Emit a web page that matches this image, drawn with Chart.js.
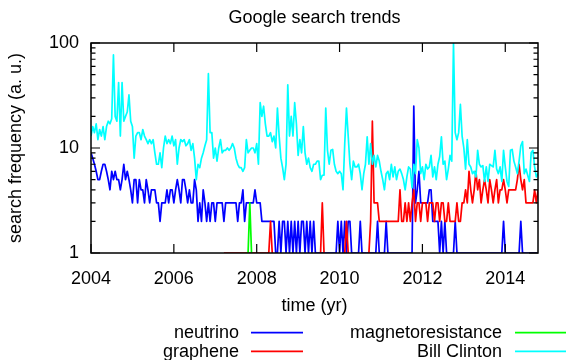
<!DOCTYPE html>
<html><head><meta charset="utf-8">
<script src="https://cdn.jsdelivr.net/npm/chart.js@4.4.0/dist/chart.umd.min.js"></script>
<style>html,body{margin:0;padding:0;background:#fff;}#wrap{width:566px;height:360px;position:relative;}</style>
</head><body><div id="wrap"><canvas id="c" width="566" height="360"></canvas></div>
<script>
// time sampling (semi-monthly) starting Jan 2004; 0 = no data on a log axis (gap)
const START_YEAR = 2004;
const STEP_YEARS = 1 / 24;

const neutrino = [
 9,8,7,6,5,5,6,7,7,6,
 5,4,6,5,6,5,5,4,5,7,
 5,6,5,4,3,5,5,3,5,4,
 4,3,5,4,3,4,4,4,3,3,
 2,3,3,3,4,3,4,4,3,4,
 5,4,3,5,5,4,3,4,3,3,
 5,4,2,3,2,4,3,2,3,2,
 3,3,2,3,3,3,3,2,3,3,
 3,3,3,3,3,2,3,3,4,2,
 3,3,3,3,3,4,3,3,3,2,
 2,2,2,2,2,2,2,1,1,2,
 1,2,2,1,2,1,2,1,2,1,
 2,1,2,2,1,2,1,2,1,2,
 1,1,1,1,1,1,1,1,1,1,
 1,1,1,2,1,2,1,2,1,2,
 2,1,1,1,1,1,2,1,1,1,
 1,1,1,1,1,1,2,1,1,1,
 1,2,1,1,1,1,1,1,1,1,
 1,1,1,1,1,1,1,25,3,4,
 6,3,3,3,3,3,4,4,2,2,
 2,2,1,2,1,2,1,1,1,1,
 1,2,1,1,1,1,1,1,1,1,
 1,1,1,1,1,1,1,1,1,1,
 1,1,1,1,1,1,1,1,1,2,
 1,1,1,1,1,1,1,1,1,2,
 1,1,1,1,1,1,1,1,1,1
];

const graphene = [
 0,0,0,0,0,0,0,0,0,0,
 0,0,0,0,0,0,0,0,0,0,
 0,0,0,0,0,0,0,0,0,0,
 0,0,0,0,0,0,0,0,0,0,
 0,0,0,0,0,0,0,0,0,0,
 0,0,0,0,0,0,0,0,0,0,
 0,0,0,0,0,0,0,0,0,0,
 0,0,0,0,0,0,0,1,1,1,
 1,1,1,1,1,1,1,1,1,1,
 1,1,1,1,1,1,1,1,1,1,
 1,1,1,1,2,1,0,0,0,0,
 0,0,0,0,0,0,0,0,0,0,
 0,0,0,0,0,0,0,0,0,0,
 0,0,0,1,3,1,0,0,0,0,
 0,0,0,0,0,0,0,1,2,1,
 0,0,0,0,0,0,0,0,0,0,
 0,1,2,18,3,3,3,2,2,2,
 2,2,2,2,2,2,2,2,2,4,
 2,2,3,2,3,2,3,4,2,3,
 3,2,3,3,3,2,3,3,3,2,
 3,3,2,3,3,2,2,3,2,2,
 2,2,3,2,2,3,3,4,3,6,
 4,3,4,6,4,5,3,4,5,4,
 3,5,4,3,4,5,3,4,4,5,
 4,3,4,4,4,4,4,5,7,5,
 4,5,3,3,3,3,3,4,3,4
];

const magnetoresistance = [
 0,0,0,0,0,0,0,0,0,0,
 0,0,0,0,0,0,0,0,0,0,
 0,0,0,0,0,0,0,0,0,0,
 0,0,0,0,0,0,0,0,0,0,
 0,0,0,0,0,0,0,0,0,0,
 0,0,0,0,0,0,0,0,0,0,
 0,0,0,0,0,0,0,0,0,0,
 0,0,0,0,0,0,0,0,0,0,
 0,0,0,0,0,0,0,0,0,0,
 0,1,3,1,0,0,0,0,0,0,
 0,0,0,0,0,0,0,0,0,0,
 0,0,0,0,0,0,0,0,0,0,
 0,0,0,0,0,0,0,0,0,0,
 0,0,0,0,0,0,0,0,0,0,
 0,0,0,0,0,0,0,0,0,0,
 0,0,0,0,0,0,0,0,0,0,
 0,0,0,0,0,0,0,0,0,0,
 0,0,0,0,0,0,0,0,0,0,
 0,0,0,0,0,0,0,0,0,0,
 0,0,0,0,0,0,0,0,0,0,
 0,0,0,0,0,0,0,0,0,0,
 0,0,0,0,0,0,0,0,0,0,
 0,0,0,0,0,0,0,0,0,0,
 0,0,0,0,0,0,0,0,0,0,
 0,0,0,0,0,0,0,0,0,0,
 0,0,0,0,0,0,0,0,0,0
];

const billClinton = [
 13,16,14,17,12,15,13,16,12,16,
 18,17,19,77,20,18,42,13,42,18,
 20,22,32,18,16,8,13,14,14,12,
 15,13,12,11,12,11,12,9,7,7,
 9,6.5,10,13,11,12,11,13,10.5,12,
 7,10,12,11.5,12,10.5,11,12,9.5,11,
 8,5,7,6.5,8,9,10.5,12,51,14,
 14,8,10,7.5,10,12,9,9.5,9.5,10,
 9.5,10,11,10,8,7,6.5,6.5,6,6.5,
 12,9,9.5,10,10,9,11,7,27,20,
 25,17,13,13,14,11.5,13,10,24,13,
 8,6.5,5,7,40,13,20,13,27,17,
 8.5,12,9,16,9,7,8,6.5,6,7,
 7,7.5,7.5,5,5.5,5.5,24,9.5,7,9.5,
 9.7,7,6,5.7,6,5.7,4,11,24,13,
 7,5,7.5,6.6,6.6,7,5.7,4,5.7,7,
 12.8,7,11,7,8.5,6.6,8.5,7.5,6,5,
 4,5.7,6,5,7,5.3,6.6,5,6,6.3,
 5.7,5,4,5.3,6.6,6.3,4.2,7,5.7,12,
 10,5.7,6.6,5,7,6.3,6.6,8.5,5.3,6.6,
 5,7,8.3,12.8,7,7.5,5,6.3,8.5,7.5,
 100,14,12,14,26,13,10,6.3,12,7,
 6.6,5.7,6,5.3,9.5,7,6.6,6.8,4.8,6.6,
 4.8,7,6.8,6.6,9.5,6.3,5.7,6.6,4.8,9.5,
 6.6,4.8,4.3,9.5,9.7,7.5,6.6,5.7,7.5,10.5,
 11.5,5.7,6.3,5.5,4.8,9,9.5,6.6,5.3,5.7
];

const seriesNames = ['neutrino', 'graphene', 'magnetoresistance', 'Bill Clinton'];
const seriesValues = [neutrino, graphene, magnetoresistance, billClinton];
const seriesColors = ['#0000ff', '#ff0000', '#00ff00', '#00ffff'];
const xTickYears = [2004, 2006, 2008, 2010, 2012, 2014];
const yMajorTicks = [1, 10, 100];
const yMinorTicks = [2,3,4,5,6,7,8,9,20,30,40,50,60,70,80,90];
const titleText = 'Google search trends';
const xTitleText = 'time (yr)';
const yTitleText = 'search frequency (a. u.)';

const times = neutrino.map((_, i) => START_YEAR + i * STEP_YEARS);
const FONT = '"Liberation Sans", Arial, sans-serif';

const datasets = seriesValues.map((vals, k) => ({
  label: seriesNames[k],
  data: vals.map((v, i) => ({ x: times[i], y: v })),
  borderColor: seriesColors[k],
  backgroundColor: seriesColors[k],
  borderWidth: 1.7,
  pointRadius: 0,
  tension: 0,
  fill: false,
  spanGaps: false,
  borderJoinStyle: 'round',
  order: 4 - k
}));

const gnuplotDecor = {
  id: 'gnuplotDecor',
  afterDatasetsDraw(chart) {
    const { ctx, chartArea: a, scales } = chart;
    const xs = scales.x, ys = scales.y;
    ctx.save();
    ctx.strokeStyle = '#000';
    ctx.lineWidth = 1.5;
    ctx.strokeRect(a.left, a.top, a.right - a.left, a.bottom - a.top);
    ctx.lineWidth = 1.2;
    ctx.beginPath();
    const tick = (v, len) => {
      const y = ys.getPixelForValue(v);
      ctx.moveTo(a.left, y); ctx.lineTo(a.left + len, y);
      ctx.moveTo(a.right, y); ctx.lineTo(a.right - len, y);
    };
    yMajorTicks.forEach(v => tick(v, 9));
    yMinorTicks.forEach(v => tick(v, 4.5));
    xTickYears.forEach(v => {
      const x = xs.getPixelForValue(v);
      ctx.moveTo(x, a.bottom); ctx.lineTo(x, a.bottom - 9);
      ctx.moveTo(x, a.top); ctx.lineTo(x, a.top + 9);
    });
    ctx.stroke();
    ctx.restore();
  },
  afterDraw(chart) {
    const { ctx, chartArea: a } = chart;
    const cx = (a.left + a.right) / 2;
    ctx.save();
    ctx.fillStyle = '#000';
    ctx.font = '18px ' + FONT;
    ctx.textBaseline = 'alphabetic';
    ctx.textAlign = 'center';
    ctx.fillText(titleText, cx, 22.5);
    ctx.fillText(xTitleText, cx, 310.5);
    ctx.save();
    ctx.translate(21, (a.top + a.bottom) / 2);
    ctx.rotate(-Math.PI / 2);
    ctx.fillText(yTitleText, 0, 0);
    ctx.restore();
    // legend (gnuplot style, two columns)
    const textRight = [239, 502];
    const lineStart = [251, 515];
    const rowY = [332.7, 351.3];
    chart.data.datasets.forEach((ds, k) => {
      const col = k >> 1, row = k & 1;
      const y = rowY[row];
      ctx.textAlign = 'right';
      ctx.fillStyle = '#000';
      ctx.fillText(ds.label, textRight[col], y + 5.2);
      ctx.strokeStyle = ds.borderColor;
      ctx.lineWidth = 1.7;
      ctx.beginPath();
      ctx.moveTo(lineStart[col], y);
      ctx.lineTo(lineStart[col] + 52, y);
      ctx.stroke();
    });
    ctx.restore();
  }
};

Chart.defaults.font.family = FONT;
Chart.defaults.font.size = 18;
Chart.defaults.color = '#000';

new Chart(document.getElementById('c'), {
  type: 'line',
  data: { datasets },
  options: {
    responsive: false,
    animation: false,
    devicePixelRatio: 1,
    layout: { padding: { left: 0, right: 28, top: 43, bottom: 0 } },
    plugins: { legend: { display: false }, title: { display: false }, tooltip: { enabled: false } },
    scales: {
      x: {
        type: 'linear',
        min: 2004,
        max: 2014.79,
        afterBuildTicks: s => { s.ticks = xTickYears.map(v => ({ value: v })); },
        afterFit: s => { s.height = 107; },
        ticks: { padding: 15, maxRotation: 0, autoSkip: false, color: '#000', font: { size: 18 }, callback: v => String(v) },
        grid: { display: false, drawTicks: false },
        border: { display: false }
      },
      y: {
        type: 'logarithmic',
        min: 1,
        max: 100,
        afterBuildTicks: s => { s.ticks = yMajorTicks.map(v => ({ value: v })); },
        afterFit: s => { s.width = 91; },
        ticks: { padding: 12, color: '#000', font: { size: 18 }, callback: v => String(v) },
        grid: { display: false, drawTicks: false },
        border: { display: false }
      }
    }
  },
  plugins: [gnuplotDecor]
});
</script>
</body></html>
